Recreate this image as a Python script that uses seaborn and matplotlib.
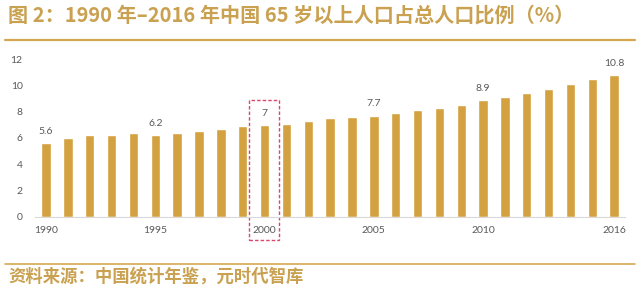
import matplotlib
matplotlib.use("Agg")
import matplotlib.pyplot as plt
import seaborn as sns
import pandas as pd
from matplotlib.patches import Rectangle
from matplotlib.lines import Line2D

years = list(range(1990, 2017))
values = [5.6, 6.0, 6.2, 6.2, 6.4, 6.2, 6.4, 6.5, 6.7, 6.9, 7.0, 7.1, 7.3, 7.5, 7.6,
          7.7, 7.9, 8.1, 8.3, 8.5, 8.9, 9.1, 9.4, 9.7, 10.1, 10.5, 10.8]
label_years = [1990, 1995, 2000, 2005, 2010, 2016]
tick_years = [1990, 1995, 2000, 2005, 2010, 2016]
highlight_year = 2000

title = "图 2：1990 年–2016 年中国 65 岁以上人口占总人口比例（%）"
source = "资料来源：中国统计年鉴，元时代智库"

sns.set_theme(style="white")
plt.rcParams['font.family'] = ['Lato', 'Noto Sans CJK SC', 'DejaVu Sans']

gold = "#D4A140"
title_gold = "#C9A150"
gray = "#595959"

df = pd.DataFrame({"year": [str(y) for y in years], "value": values})

fig = plt.figure(figsize=(6.4, 2.9), dpi=100)
ax = fig.add_axes([35.1 / 640, 1 - 216.7 / 290, 590 / 640, 157.4 / 290])
sns.barplot(data=df, x="year", y="value", color=gold, saturation=1, width=0.43, ax=ax)

ax.set_xlim(-0.5, len(years) - 0.5)
ax.set_ylim(0, 12)
ax.set_yticks([0, 2, 4, 6, 8, 10, 12])
ax.tick_params(axis="y", length=0, pad=9, labelsize=7.5, labelcolor=gray)
idx = [years.index(y) for y in tick_years]
ax.set_xticks(idx)
ax.set_xticklabels([str(y) for y in tick_years])
ax.tick_params(axis="x", length=0, pad=7, labelsize=7.5, labelcolor=gray)
ax.set_xlabel("")
ax.set_ylabel("")
for s in ["top", "right", "left"]:
    ax.spines[s].set_visible(False)
ax.spines["bottom"].set_color("#D9D9D9")
ax.spines["bottom"].set_linewidth(0.8)

for y in label_years:
    i = years.index(y)
    v = values[i]
    ax.text(i, v + 0.55, f"{v:g}", ha="center", va="bottom", fontsize=7.5, color=gray)

hi = years.index(highlight_year)
rect = Rectangle((hi - 0.7, -1.78), 1.38, 8.86 + 1.78, fill=False,
                 edgecolor="#D9476A", linestyle=(0, (2.5, 1.5)), linewidth=1.0, clip_on=False)
ax.add_patch(rect)

fig.text(8 / 640, 1 - 15 / 290, title, ha="left", va="center", fontsize=14.5,
         fontweight="bold", color=title_gold, family=['Noto Sans CJK SC', 'DejaVu Sans'])
fig.add_artist(Line2D([5 / 640, 635 / 640], [1 - 40 / 290, 1 - 40 / 290],
                      color="#D4A850", linewidth=1.6, transform=fig.transFigure))
fig.add_artist(Line2D([5 / 640, 635 / 640], [1 - 263.5 / 290, 1 - 263.5 / 290],
                      color="#D4A850", linewidth=1.2, transform=fig.transFigure))
fig.text(8 / 640, 1 - 277 / 290, source, ha="left", va="center", fontsize=12.5,
         fontweight="bold", color=title_gold, family=['Noto Sans CJK SC', 'DejaVu Sans'])

fig.savefig("out.png", dpi=100)
